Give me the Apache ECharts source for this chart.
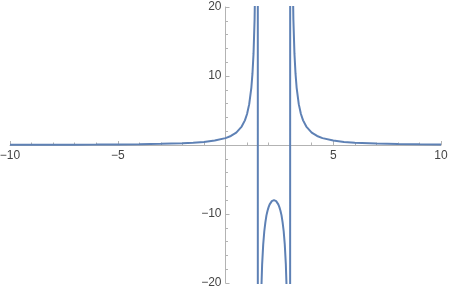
<!DOCTYPE html>
<html>
<head>
<meta charset="utf-8">
<script src="https://cdn.jsdelivr.net/npm/echarts@6/dist/echarts.min.js"></script>
<style>
html, body { margin: 0; padding: 0; background: #fff; }
#plot { width: 450px; height: 291px; }
</style>
</head>
<body>
<div id="plot"></div>
<script>
// values (x, y)
var xValues = [
  -10, -9, -8, -7, -6, -5, -4, -3, -2, -1.5, -1, -0.5, 0, 0.25, 0.5, 0.75, 0.9, 1, 1.1, 1.2, 1.25, 1.3, 1.35, 1.4, 1.45, 1.49,
  1.51, 1.55, 1.6, 1.65, 1.7, 1.75, 1.8, 1.85, 1.9, 1.95, 2.0, 2.05, 2.1, 2.15, 2.25, 2.35, 2.4, 2.45, 2.5, 2.55, 2.6, 2.65, 2.7, 2.75, 2.8, 2.85, 2.9, 2.95, 2.99,
  3.01, 3.05, 3.1, 3.15, 3.2, 3.25, 3.3, 3.4, 3.5, 3.6, 3.75, 4, 4.25, 4.5, 5, 5.5, 6, 7, 8, 9, 10
]
var yValues = [
  0.030, 0.036, 0.043, 0.053, 0.067, 0.087, 0.117, 0.167, 0.257, 0.333, 0.45, 0.643, 1, 1.31, 1.8, 2.67, 3.57, 4.5, 5.92, 8.33, 10.3, 13.2, 18.2, 28.1, 58.1, 298,
  -302, -62.1, -32.1, -22.2, -17.3, -14.4, -12.5, -11.2, -10.2, -9.52, -9, -8.61, -8.33, -8.14, -8, -8.14, -8.33, -8.61, -9, -9.52, -10.2, -11.2, -12.5, -14.4, -17.3, -22.2, -32.1, -62.1, -302,
  298, 58.1, 28.1, 18.2, 13.2, 10.3, 8.33, 5.92, 4.5, 3.57, 2.67, 1.8, 1.31, 1, 0.643, 0.45, 0.333, 0.205, 0.138, 0.1, 0.076
]
var xTicks = [-10, -5, 0, 5, 10]
var yTicks = [-20, -10, 0, 10, 20]

var points = xValues.map(function (x, i) { return [x, yValues[i]] })

function fmt(v) {
  if (v === 0) return ''
  return v < 0 ? '\u2212' + Math.abs(v) : String(v)
}

// plot box, axes cross at the origin (middle of the box)
var W = 450, H = 291
var gLeft = 10, gRight = 9, gTop = 7, gBottom = 8
var gW = W - gLeft - gRight
var gH = H - gTop - gBottom

var axisGrey = '#b3b3b3'
var labelStyle = { color: '#444', fontSize: 12, fontFamily: 'Liberation Sans, Arial, sans-serif' }

var myChart = echarts.init(document.getElementById('plot'))
var option = {
  animation: false,
  grid: { left: gLeft, right: gRight, top: gTop, bottom: gBottom, containLabel: false, outerBoundsMode: 'none' },
  xAxis: {
    type: 'value',
    min: xTicks[0],
    max: xTicks[xTicks.length - 1],
    interval: 5,
    position: 'bottom',
    offset: -gH / 2,
    axisLine: { onZero: false, lineStyle: { color: axisGrey, width: 1 } },
    axisTick: { show: true, inside: true, length: 4, lineStyle: { color: axisGrey } },
    minorTick: { show: true, splitNumber: 5, length: 2.5, lineStyle: { color: axisGrey } },
    splitLine: { show: false },
    axisLabel: Object.assign({ margin: 5, showMinLabel: true, showMaxLabel: true, formatter: fmt }, labelStyle)
  },
  yAxis: {
    type: 'value',
    min: yTicks[0],
    max: yTicks[yTicks.length - 1],
    interval: 10,
    position: 'left',
    offset: -gW / 2,
    axisLine: { onZero: false, lineStyle: { color: axisGrey, width: 1 } },
    axisTick: { show: true, inside: true, length: 4, lineStyle: { color: axisGrey } },
    minorTick: { show: true, splitNumber: 5, length: 2.5, lineStyle: { color: axisGrey } },
    splitLine: { show: false },
    axisLabel: Object.assign({ margin: 4, showMinLabel: true, showMaxLabel: true, formatter: fmt }, labelStyle)
  },
  series: [
    {
      type: 'line',
      data: points,
      showSymbol: false,
      clip: true,
      lineStyle: { color: '#5e81b5', width: 2 },
      itemStyle: { color: '#5e81b5' }
    }
  ]
}
myChart.setOption(option)
</script>
</body>
</html>
